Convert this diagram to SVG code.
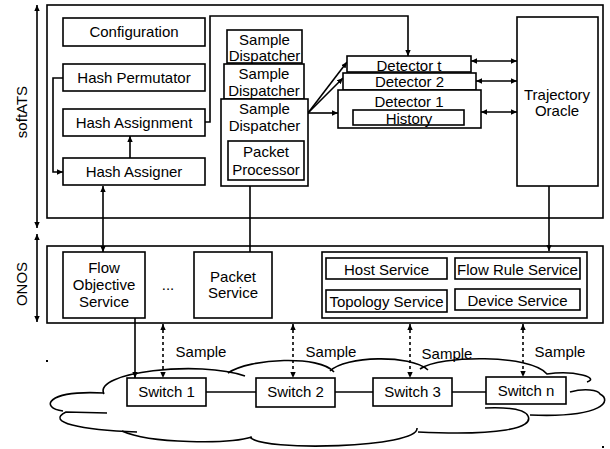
<svg xmlns="http://www.w3.org/2000/svg" width="610" height="449" viewBox="0 0 610 449">
<style>
.box{fill:#fff;stroke:#000;stroke-width:1.6}
.t{font-family:"Liberation Sans",Arial,sans-serif;font-size:15px;text-anchor:middle;fill:#000}
.ln{fill:none;stroke:#000;stroke-width:1.6}
.dash{stroke-dasharray:3,3}
.cl{fill:none;stroke:#000;stroke-width:1.6}
</style>
<defs>
<marker id="ah" viewBox="0 0 10 10" refX="10" refY="5" markerWidth="6" markerHeight="6" orient="auto-start-reverse" markerUnits="userSpaceOnUse">
<path d="M0,0.5 L10,5 L0,9.5 z" fill="#000"/>
</marker>
</defs>
<rect width="610" height="449" fill="#fff"/>

<g id="softATS">
<rect class="box" x="47" y="5" width="556" height="213"/>
<text class="t" transform="translate(27,112) rotate(-90)">softATS</text>
</g>
<g id="ONOS">
<rect class="box" x="47" y="246" width="556" height="77"/>
<text class="t" transform="translate(27,284) rotate(-90)">ONOS</text>
</g>

<g id="cloud">
<path d="M106,392 C92,372 200,360 237,373 C250,358 320,355 334,370 C345,356 410,354 425,368 C440,355 530,354 547,374 C575,370 600,380 585,393 C612,392 605,418 530,415 C540,425 500,436 418,432 C410,450 260,452 250,437 C230,444 150,444 137,432 C80,430 45,422 66,412 C40,408 45,390 106,392 Z" fill="#fff" stroke="none"/>
<path class="cl" d="M104,394 C92,372 200,360 245,376"/>
<path class="cl" d="M228,373 C250,358 320,355 334,372"/>
<path class="cl" d="M330,371 C345,356 410,354 428,370"/>
<path class="cl" d="M420,369 C440,355 530,354 547,374 C575,370 600,378 587,382"/>
<path class="cl" d="M570,392 C585,388 598,390 600,394 C612,400 605,418 530,415"/>
<path class="cl" d="M485,408 C510,407 525,410 528,416 C534,428 500,436 418,432"/>
<path class="cl" d="M417,428 C420,448 260,452 250,437"/>
<path class="cl" d="M252,437 C230,444 150,444 122,431"/>
<path class="cl" d="M137,432 C80,430 45,422 66,412 L107,413"/>
<path class="cl" d="M63,411 C40,408 45,390 104,393"/>
</g>

<g id="connectors">
<path class="ln" d="M37,5 V228" marker-start="url(#ah)" marker-end="url(#ah)"/>
<path class="ln" d="M37,234 V322" marker-start="url(#ah)" marker-end="url(#ah)"/>
<path class="ln" d="M63,78 H53 V172 H63" marker-end="url(#ah)"/>
<path class="ln" d="M130,158 V136" marker-end="url(#ah)"/>
<path class="ln" d="M205,122 H210 V16 H408 V56" marker-end="url(#ah)"/>
<path class="ln" d="M308,113 L347,62" marker-end="url(#ah)"/>
<path class="ln" d="M308,113 L343,78" marker-end="url(#ah)"/>
<path class="ln" d="M308,113 H338" marker-end="url(#ah)"/>
<path class="ln" d="M471,61 H517" marker-start="url(#ah)" marker-end="url(#ah)"/>
<path class="ln" d="M476,81 H517" marker-start="url(#ah)" marker-end="url(#ah)"/>
<path class="ln" d="M481,112 H517" marker-start="url(#ah)" marker-end="url(#ah)"/>
<path class="ln" d="M103,186 V252" marker-start="url(#ah)" marker-end="url(#ah)"/>
<path class="ln" d="M250,252 V180" marker-end="url(#ah)"/>
<path class="ln" d="M549,186 V251" marker-end="url(#ah)"/>
<path class="ln" d="M135,318 V378" marker-end="url(#ah)"/>
<path class="ln dash" d="M163,324 V378" marker-start="url(#ah)" marker-end="url(#ah)"/>
<path class="ln dash" d="M293,324 V378" marker-start="url(#ah)" marker-end="url(#ah)"/>
<path class="ln dash" d="M410,324 V378" marker-start="url(#ah)" marker-end="url(#ah)"/>
<path class="ln dash" d="M523,324 V377" marker-start="url(#ah)" marker-end="url(#ah)"/>
<path class="ln" d="M206,392 H256"/>
<path class="ln" d="M335,392 H373"/>
<path class="ln" d="M452,392 H486"/>
<text class="t" x="201" y="357">Sample</text>
<text class="t" x="331" y="357">Sample</text>
<text class="t" x="447" y="359">Sample</text>
<text class="t" x="560" y="357">Sample</text>
</g>

<g id="configuration"><rect class="box" x="63" y="18" width="142" height="28"/><text class="t" x="134" y="37">Configuration</text></g>
<g id="hash-permutator"><rect class="box" x="63" y="64" width="142" height="27"/><text class="t" x="134" y="83">Hash Permutator</text></g>
<g id="hash-assignment"><rect class="box" x="63" y="109" width="142" height="27"/><text class="t" x="134" y="128">Hash Assignment</text></g>
<g id="hash-assigner"><rect class="box" x="63" y="158" width="142" height="27"/><text class="t" x="134" y="177">Hash Assigner</text></g>

<g id="sample-dispatcher-3"><rect class="box" x="227" y="30" width="75" height="33"/><text class="t" x="264.5" y="45">Sample</text><text class="t" x="264.5" y="61">Dispatcher</text></g>
<g id="sample-dispatcher-2"><rect class="box" x="224" y="64" width="80" height="35"/><text class="t" x="264" y="79">Sample</text><text class="t" x="264" y="96">Dispatcher</text></g>
<g id="sample-dispatcher-1"><rect class="box" x="221" y="99" width="87" height="87"/><text class="t" x="264.5" y="114">Sample</text><text class="t" x="264.5" y="131">Dispatcher</text>
<rect class="box" x="228" y="141" width="76" height="39"/><text class="t" x="266" y="157">Packet</text><text class="t" x="266" y="175">Processor</text></g>

<g id="detector-t"><rect class="box" x="347" y="56" width="124" height="16"/><text class="t" x="409" y="71">Detector t</text></g>
<g id="detector-2"><rect class="box" x="343" y="73" width="133" height="17"/><text class="t" x="409.5" y="87">Detector 2</text></g>
<g id="detector-1"><rect class="box" x="338" y="90" width="143" height="38"/><text class="t" x="409" y="107">Detector 1</text>
<rect class="box" x="353" y="110" width="111" height="15"/><text class="t" x="409" y="124">History</text></g>

<g id="trajectory-oracle"><rect class="box" x="517" y="17" width="81" height="169"/><text class="t" x="557" y="100">Trajectory</text><text class="t" x="557" y="116">Oracle</text></g>

<g id="flow-objective-service"><rect class="box" x="63" y="252" width="82" height="66"/><text class="t" x="104" y="273">Flow</text><text class="t" x="104" y="290">Objective</text><text class="t" x="104" y="307">Service</text></g>
<g id="ellipsis"><text class="t" x="168" y="290">...</text></g>
<g id="packet-service"><rect class="box" x="194" y="252" width="78" height="66"/><text class="t" x="233" y="282">Packet</text><text class="t" x="233" y="298">Service</text></g>
<g id="services"><rect class="box" x="322" y="252" width="265" height="66"/>
<rect class="box" x="326" y="258" width="121" height="21"/><text class="t" x="386.5" y="275">Host Service</text>
<rect class="box" x="455" y="258" width="125" height="21"/><text class="t" x="517.5" y="275">Flow Rule Service</text>
<rect class="box" x="326" y="290" width="121" height="22"/><text class="t" x="386.5" y="307">Topology Service</text>
<rect class="box" x="455" y="289" width="125" height="21"/><text class="t" x="517.5" y="306">Device Service</text></g>

<g id="switch-1"><rect class="box" x="127" y="378" width="79" height="28"/><text class="t" x="166.5" y="397">Switch 1</text></g>
<g id="switch-2"><rect class="box" x="256" y="378" width="79" height="29"/><text class="t" x="295.5" y="397">Switch 2</text></g>
<g id="switch-3"><rect class="box" x="373" y="378" width="79" height="28"/><text class="t" x="412.5" y="397">Switch 3</text></g>
<g id="switch-n"><rect class="box" x="486" y="377" width="80" height="27"/><text class="t" x="526" y="396">Switch n</text></g>

<rect x="46" y="360" width="2" height="2" fill="#000"/>
<rect x="602" y="446" width="2" height="2" fill="#000"/>
</svg>
